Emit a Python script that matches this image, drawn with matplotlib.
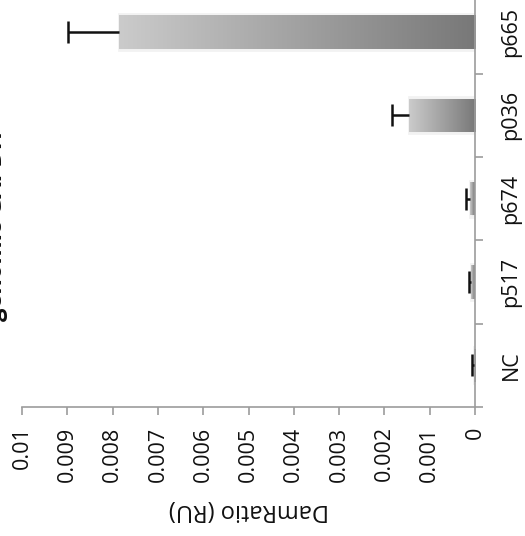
import numpy as np
import matplotlib
matplotlib.use("Agg")
import matplotlib.pyplot as plt
from matplotlib.colors import LinearSegmentedColormap

categories = ["NC", "p517", "p674", "p036", "p665"]
values = [0.00003, 0.00008, 0.0001, 0.00146, 0.00786]
errors = [0.00004, 0.00006, 0.00009, 0.00037, 0.00112]
value_ticks = [0, 0.001, 0.002, 0.003, 0.004, 0.005, 0.006, 0.007, 0.008, 0.009, 0.01]
value_tick_labels = ["0", "0.001", "0.002", "0.003", "0.004", "0.005", "0.006",
                     "0.007", "0.008", "0.009", "0.01"]
title = "genomic GAPDH"
axis_label = "DamRatio (RU)"

plt.rcParams['font.family'] = ['Open Sans', 'DejaVu Sans']

W, H = 525, 536
fig = plt.figure(figsize=(W / 100, H / 100), dpi=100)
left, right, bottom, top = 22, 475, 407, -9.75
ax = fig.add_axes([left / W, 1 - bottom / H, (right - left) / W, (bottom - top) / H])
ax.set_facecolor("none")

ypos = np.arange(len(categories))
bar_h = 0.4
cmap = LinearSegmentedColormap.from_list("g", ["#cbcbcb", "#787878"])
grad = np.linspace(0, 1, 256).reshape(1, -1)

# faint halo behind bars
ax.barh(ypos, values, height=bar_h + 0.03, color="#ececec", edgecolor="#f2f2f2",
        linewidth=2, zorder=1)
bars = ax.barh(ypos, values, height=bar_h, color="none", edgecolor="none", zorder=2)
for b, v in zip(bars, values):
    x0, y0 = b.get_x(), b.get_y()
    w, h = b.get_width(), b.get_height()
    # light at the value end (left on screen), dark near 0
    im = ax.imshow(grad, cmap=cmap, aspect="auto",
                   extent=(x0 + w, x0, y0, y0 + h), zorder=2, interpolation="bicubic")
    im.set_clip_path(b)
    if w < 0.0005:
        b.set_facecolor("#9a9a9a")

eb = ax.errorbar(values, ypos, xerr=[np.zeros(len(errors)), errors], fmt="none",
                 ecolor="#111111", elinewidth=1.8, capsize=8, capthick=1.8, zorder=3)
caps = eb[1]
if len(caps) == 2:
    caps[0].set_visible(False)

ax.set_xlim(0.01, 0)
ax.set_ylim(-0.5, len(categories) - 0.5)

for s in ["top", "left"]:
    ax.spines[s].set_visible(False)
for s in ["bottom", "right"]:
    ax.spines[s].set_color("#9c9c9c")
    ax.spines[s].set_linewidth(1.2)

ax.set_xticks(value_ticks)
ax.set_xticklabels(value_tick_labels, rotation=90, va="top", ha="center",
                   fontsize=15.5, color="#111111")
ax.tick_params(axis="x", direction="out", length=6, width=1.2, color="#9c9c9c", pad=8)

ax.yaxis.tick_right()
ax.set_yticks(np.arange(len(categories) + 1) - 0.5)
ax.set_yticklabels([])
ax.set_yticks(ypos, minor=True)
ax.set_yticklabels(categories, minor=True, rotation=90, va="center", ha="center",
                   fontsize=15.5, color="#111111")
ax.tick_params(axis="y", which="major", direction="out", length=6, width=1.2,
               color="#9c9c9c")
ax.tick_params(axis="y", which="minor", length=0, pad=26)
ax.tick_params(axis="y", which="minor", labelright=True, labelleft=False)

ax.set_xlabel(axis_label, rotation=180, fontsize=17, color="#111111", labelpad=12)

fig.text(8 / W, 1 - 226 / H, title, rotation=90, ha="right", va="center",
         fontsize=17, fontweight="bold", color="#111111")

fig.savefig("out.png", dpi=100)
